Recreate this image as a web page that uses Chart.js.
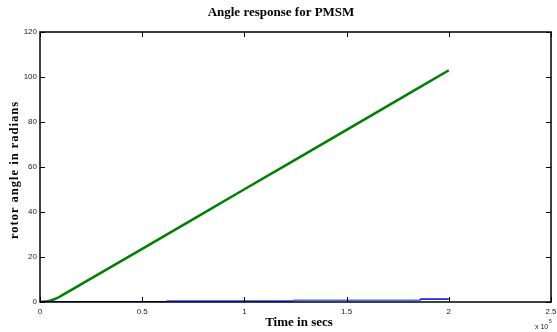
<!DOCTYPE html>
<html><head><meta charset="utf-8">
<script src="https://cdn.jsdelivr.net/npm/chart.js@4/dist/chart.umd.min.js"></script>
<style>html,body{margin:0;padding:0;background:#fff}#wrap{width:557px;height:332px}</style>
</head><body><div id="wrap"><canvas id="c" width="557" height="332"></canvas></div>
<script>
// time in units of x 10^5 s
const greenTime = [0, 0.04, 0.08, 0.12, 0.2, 0.5, 1, 1.5, 2];
const greenAngle = [0, 0.4, 1.6, 3.6, 7.8, 23.6, 50.1, 76.5, 103];
const blueTime = [0, 0.62, 0.62, 1.24, 1.24, 1.86, 1.86, 2];
const blueAngle = [0.1, 0.1, 0.4, 0.4, 0.75, 0.75, 1.3, 1.3];
const xTicks = [0, 0.5, 1, 1.5, 2, 2.5];
const yTicks = [0, 20, 40, 60, 80, 100, 120];
const titleText = 'Angle response for PMSM';
const xTitle = 'Time in secs';
const yTitle = 'rotor angle in radians';

const toPts = (xs, ys) => xs.map((x, i) => ({x, y: ys[i]}));
const blueColors = ['#0000dd', '#0000dd', '#2a40ff', '#2a40ff', '#4a6aff', '#4a6aff', '#0000cc'];
const tickFont = {family: '"Liberation Sans Narrow", "Liberation Sans", Arial, sans-serif', size: 8};

const decor = {
  id: 'decor',
  afterDraw(chart) {
    const {ctx, chartArea: a, scales: {x, y}} = chart;
    ctx.save();
    ctx.strokeStyle = '#000';
    ctx.lineWidth = 1.5;
    ctx.strokeRect(a.left, a.top, a.right - a.left, a.bottom - a.top);
    ctx.lineWidth = 1;
    const L = 5;
    xTicks.forEach(v => {
      const px = Math.round(x.getPixelForValue(v)) + 0.5;
      ctx.beginPath();
      ctx.moveTo(px, a.bottom); ctx.lineTo(px, a.bottom - L);
      ctx.moveTo(px, a.top); ctx.lineTo(px, a.top + L);
      ctx.stroke();
    });
    yTicks.forEach(v => {
      const py = Math.round(y.getPixelForValue(v)) + 0.5;
      ctx.beginPath();
      ctx.moveTo(a.left, py); ctx.lineTo(a.left + L, py);
      ctx.moveTo(a.right, py); ctx.lineTo(a.right - L, py);
      ctx.stroke();
    });
    ctx.fillStyle = '#000';
    ctx.font = 'bold 13px "Liberation Serif", "Times New Roman", serif';
    ctx.textAlign = 'center';
    ctx.textBaseline = 'middle';
    ctx.fillText(titleText, 281, 13);
    ctx.fillText(xTitle, 299, 323);
    ctx.save();
    ctx.translate(15, 170);
    ctx.rotate(-Math.PI / 2);
    ctx.letterSpacing = '1px';
    ctx.font = 'bold 12.5px "Liberation Serif", "Times New Roman", serif';
    ctx.fillText(yTitle, 0, 0);
    ctx.restore();
    ctx.font = '7px "Liberation Sans Narrow", "Liberation Sans", Arial, sans-serif';
    ctx.fillStyle = '#222';
    ctx.textAlign = 'left';
    ctx.fillText('x 10', 535, 327);
    ctx.font = '5px "Liberation Sans", Arial, sans-serif';
    ctx.fillText('5', 549, 322);
    ctx.restore();
  }
};

new Chart(document.getElementById('c'), {
  type: 'line',
  data: {
    datasets: [
      {data: toPts(blueTime, blueAngle), borderColor: '#0000dd', borderWidth: 1.5, pointRadius: 0, tension: 0,
       segment: {borderColor: c => blueColors[c.p0DataIndex]}},
      {data: toPts(greenTime, greenAngle), borderColor: '#008000', borderWidth: 2.5, pointRadius: 0, cubicInterpolationMode: 'monotone'}
    ]
  },
  options: {
    responsive: false, animation: false,
    layout: {padding: {top: 32, right: 6, left: 0, bottom: 0}},
    plugins: {legend: {display: false}, tooltip: {enabled: false}, title: {display: false}},
    scales: {
      x: {
        type: 'linear', min: 0, max: 2.5,
        afterFit: s => { s.height = 30; s.paddingLeft = 0; s.paddingRight = 0; },
        afterBuildTicks: s => { s.ticks = xTicks.map(v => ({value: v})); },
        grid: {display: false, drawTicks: false}, border: {display: false},
        ticks: {autoSkip: false, maxRotation: 0, padding: 5, color: '#222', font: tickFont,
          callback: v => String(v)}
      },
      y: {
        min: 0, max: 120,
        afterFit: s => { s.width = 40; s.paddingTop = 0; s.paddingBottom = 0; },
        afterBuildTicks: s => { s.ticks = yTicks.map(v => ({value: v})); },
        grid: {display: false, drawTicks: false}, border: {display: false},
        ticks: {autoSkip: false, padding: 3, color: '#222', font: tickFont,
          callback: v => String(v)}
      }
    }
  },
  plugins: [decor]
});
</script></body></html>
